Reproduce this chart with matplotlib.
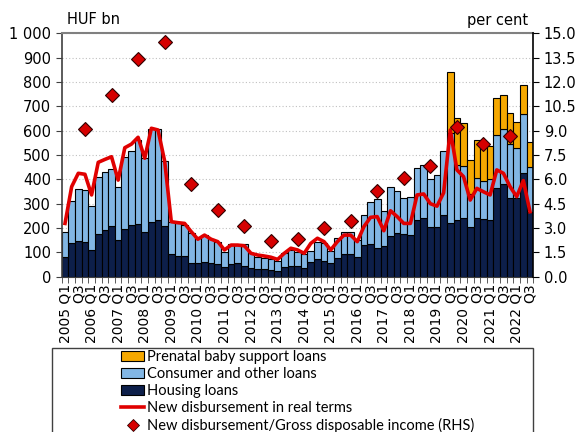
import numpy as np
import matplotlib
matplotlib.use("Agg")
import matplotlib.pyplot as plt
from matplotlib.patches import Rectangle, Patch
from matplotlib.lines import Line2D
from matplotlib.ticker import FuncFormatter

years = list(range(2005, 2023))
quarters = [f"{y} Q{q}" for y in years for q in range(1, 5)][:71]

housing = [82, 137, 147, 144, 110, 174, 192, 210, 152, 197, 214, 215, 184, 225, 234, 207,
           93, 86, 85, 58, 55, 59, 55, 51, 39, 52, 55, 45, 34, 32, 32, 27,
           23, 39, 44, 43, 37, 59, 73, 66, 55, 78, 93, 93, 82, 129, 133, 118,
           126, 167, 178, 175, 170, 232, 240, 206, 203, 252, 222, 233, 240, 206, 240, 236,
           233, 365, 381, 325, 325, 428, 267]
housing_plus_consumer = [182, 310, 359, 355, 289, 410, 429, 441, 367, 492, 518, 562, 488, 607, 607, 474,
                         226, 219, 212, 181, 162, 171, 154, 144, 103, 133, 130, 133, 96, 82, 78, 71,
                         65, 99, 110, 103, 92, 106, 144, 140, 107, 158, 185, 185, 151, 254, 308, 321,
                         270, 370, 354, 325, 326, 445, 459, 402, 417, 518, 590, 459, 455, 340, 404, 395,
                         402, 582, 606, 545, 528, 667, 452]
total_with_prenatal = [0] * 58 + [840, 651, 630, 480, 562, 548, 538, 736, 747, 672, 635, 788, 555]
real_terms = [219, 370, 425, 421, 336, 470, 482, 493, 397, 530, 545, 573, 487, 610, 603, 475,
              226, 222, 219, 185, 154, 171, 154, 144, 110, 130, 130, 127, 96, 89, 85, 80,
              71, 96, 117, 110, 96, 137, 158, 144, 110, 144, 171, 171, 144, 206, 244, 247,
              189, 271, 247, 219, 219, 336, 340, 300, 290, 345, 603, 439, 411, 315, 363, 349,
              336, 439, 425, 370, 329, 395, 267]
ratio_years = list(range(2005, 2022))
ratio_gdi = [9.1, 11.2, 13.4, 14.5, 5.7, 4.1, 3.1, 2.2, 2.3, 3.0, 3.45, 5.3, 6.1, 6.8, 9.2, 8.2, 8.7]

housing = np.array(housing, float)
hc = np.array(housing_plus_consumer, float)
consumer = hc - housing
tot = np.array(total_with_prenatal, float)
prenatal = np.where(tot > 0, tot - hc, 0)

x = np.arange(len(housing))
orange = "#F5A800"
lblue = "#82B6E4"
navy = "#0D1F4A"
red = "#E00000"

fig = plt.figure(figsize=(5.75, 4.32), dpi=100)
ax = fig.add_axes([0.1073, 0.3595, 0.8202, 0.5632])

ax.bar(x, housing, width=1.0, color=navy, edgecolor="black", linewidth=0.8, zorder=2)
ax.bar(x, consumer, bottom=housing, width=1.0, color=lblue, edgecolor="black", linewidth=0.8, zorder=2)
mask = prenatal > 0
ax.bar(x[mask], prenatal[mask], bottom=hc[mask], width=1.0, color=orange, edgecolor="black",
       linewidth=0.8, zorder=2)
ax.plot(x, real_terms, color=red, lw=2.6, solid_joinstyle="round", zorder=4)

ax.set_xlim(-0.5, len(x) - 0.5)
ax.set_ylim(0, 1000)
ax.set_yticks(np.arange(0, 1001, 100))
ax.yaxis.set_major_formatter(FuncFormatter(lambda v, p: f"{int(v):,}".replace(",", " ")))
ax.yaxis.grid(True, linestyle=(0, (1, 2)), color="#C0C0C0", lw=0.8)
ax.set_axisbelow(True)

labels = []
for i in range(0, len(x), 2):
    yq = quarters[i]
    if yq.endswith("Q1"):
        labels.append(yq)
    else:
        labels.append("Q3")
ax.set_xticks(x[::2])
ax.set_xticklabels(labels, rotation=90, fontsize=10)
ax.tick_params(axis="x", which="major", length=0, pad=5)
ax.set_xticks(np.arange(-0.5, len(x), 1), minor=True)
ax.tick_params(axis="x", which="minor", length=4, direction="out", color="#404040")
ax.tick_params(axis="y", labelsize=10.5, length=4, direction="out", color="#404040")

ax.spines["right"].set_visible(False)
ax.spines["top"].set_color("#808080")
ax.spines["top"].set_linewidth(1.5)
ax.spines["left"].set_color("#404040")
ax.spines["left"].set_linewidth(1.2)
ax.spines["bottom"].set_color("#404040")

ax2 = ax.twinx()
ax2.set_ylim(0, 15)
ax2.set_yticks(np.arange(0, 15.01, 1.5))
ax2.yaxis.set_major_formatter(FuncFormatter(lambda v, p: f"{v:.1f}"))
ax2.tick_params(axis="y", labelsize=10.5, length=4, direction="out", color="black")
for s in ["top", "left", "bottom"]:
    ax2.spines[s].set_visible(False)
ax2.spines["right"].set_color("black")
ax2.spines["right"].set_linewidth(1.2)
dx = [(y - 2005) * 4 + 3 for y in ratio_years]
ax2.plot(dx, ratio_gdi, linestyle="none", marker="D", markersize=7, markerfacecolor="#D60000",
         markeredgecolor="#300000", markeredgewidth=0.8, zorder=6)

fig.text(67 / 575, 1 - 20 / 432, "HUF bn", fontsize=10.5, ha="left", va="center")
fig.text(528 / 575, 1 - 21 / 432, "per cent", fontsize=10.5, ha="right", va="center")

fig.patches.append(Rectangle((52 / 575, -0.1), (533 - 52) / 575, 0.1 + (432 - 348) / 432,
                             transform=fig.transFigure, fill=False, edgecolor="#404040", lw=1))
handles = [Patch(facecolor=orange, edgecolor="black", lw=0.8),
           Patch(facecolor=lblue, edgecolor="black", lw=0.8),
           Patch(facecolor=navy, edgecolor="black", lw=0.8),
           Line2D([], [], color=red, lw=2.6),
           Line2D([], [], linestyle="none", marker="D", markersize=6, markerfacecolor="#D60000",
                  markeredgecolor="#300000", markeredgewidth=0.6)]
names = ["Prenatal baby support loans", "Consumer and other loans", "Housing loans",
         "New disbursement in real terms", "New disbursement/Gross disposable income (RHS)"]
fig.legend(handles, names, loc="upper left", bbox_to_anchor=(121 / 575, 1 - 350 / 432),
           frameon=False, prop={"family": "Lato", "size": 10.5}, handlelength=1.6,
           handleheight=0.7, handletextpad=0.15, labelspacing=0.2, borderpad=0, borderaxespad=0)

fig.savefig("out.png", dpi=100)
